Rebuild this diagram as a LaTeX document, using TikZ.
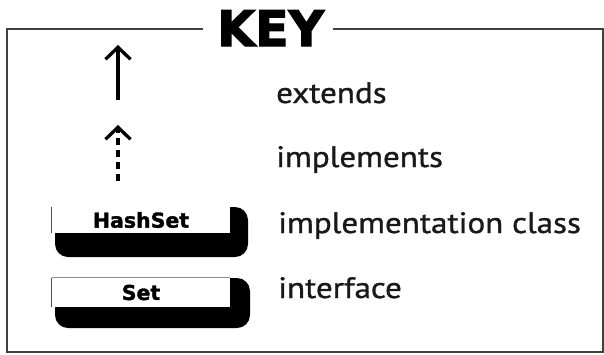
\documentclass[tikz,border=0pt]{standalone}
\usepackage{fontspec}
\setmainfont{PT Sans}[FakeStretch=1.12,FakeBold=1]
\newfontfamily\keyfont[FakeBold=2.5]{DejaVu Sans Bold}
\newfontfamily\boxfont[FakeBold=1.5]{DejaVu Sans Bold}
\usetikzlibrary{arrows.meta}
\begin{document}
\begin{tikzpicture}[x=1pt,y=-1pt,
  frame/.style={draw=black!75,line width=1.8pt},
  label/.style={anchor=base west,inner sep=0pt,font=\fontsize{29.5}{31}\selectfont,text=black!90},
  classbox/.style={fill=white,inner sep=0pt,minimum width=178pt,font=\boxfont\fontsize{20.5}{22}\selectfont},
  shadow/.style={fill=black,rounded corners=13pt},
  rel/.style={line width=3.3pt,-{Straight Barb[length=12pt,width=25pt,line width=3.3pt]}}]
\useasboundingbox (0,0) rectangle (604,354);
\fill[white] (0,0) rectangle (604,354);
% title
\node[anchor=base west,inner sep=0pt,font=\keyfont\fontsize{49}{50}\selectfont] (key) at (217,46) {KEY};
\draw[frame] (203,29) -- (7,29) -- (7,352) -- (603,352) -- (603,29) -- (333,29);
% extends
\coordinate (extA) at (118,100);
\coordinate (extB) at (118,45);
\draw[rel] (extA) -- (extB);
\node[label] (ext) at (276,103) {extends};
% implements
\coordinate (impA) at (118,181);
\coordinate (impB) at (118,125);
\draw[rel,dash pattern=on 7pt off 5pt] (impA) -- (impB);
\node[label] (imp) at (276,167) {implements};
% implementation class
\fill[shadow] (55,207) rectangle (248,257);
\node[classbox,minimum height=26pt] (hs) at (141,220) {HashSet};
\draw[line width=1pt,black!70] (hs.north west) -- (hs.south west);
\node[label] (impl) at (278,233) {implementation class};
% interface
\fill[shadow] (55,278) rectangle (250,328);
\node[classbox,minimum height=29pt] (set) at (141,292.5) {Set};
\draw[line width=1pt,black!70] (set.north west) -- (set.south west);
\draw[line width=0.8pt,black!45] (set.north west) -- (set.north east);
\node[label] (intf) at (278,298) {interface};
\end{tikzpicture}
\end{document}
